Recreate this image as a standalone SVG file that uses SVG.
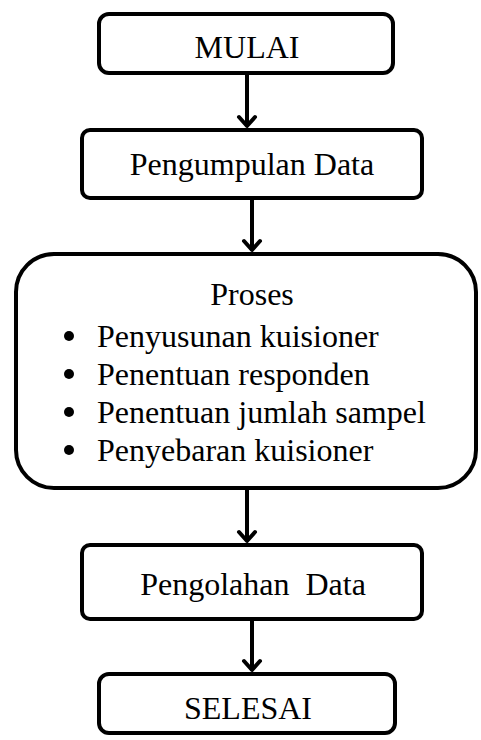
<svg xmlns="http://www.w3.org/2000/svg" width="481" height="740" viewBox="0 0 481 740">
  <defs>
    <style>
      .box { fill: #ffffff; stroke: #000000; stroke-width: 4; }
      text { font-family: 'Liberation Serif', 'Times New Roman', serif; font-size: 32px; fill: #000000; }
      .lbl { text-anchor: middle; }
      .conn { fill: none; stroke: #000000; stroke-width: 4; }
      .head { fill: none; stroke: #000000; stroke-width: 4; stroke-linecap: round; stroke-linejoin: round; }
    </style>
  </defs>
  <rect width="481" height="740" fill="#ffffff"/>

  <g id="connectors">
    <line class="conn" x1="247" y1="75" x2="247" y2="126"/>
    <polyline class="head" points="239,117 247,126 255,117"/>
    <line class="conn" x1="252" y1="200" x2="252" y2="250"/>
    <polyline class="head" points="244,241 252,250 260,241"/>
    <line class="conn" x1="247" y1="490" x2="247" y2="541"/>
    <polyline class="head" points="239,532 247,541 255,532"/>
    <line class="conn" x1="252" y1="621" x2="252" y2="670"/>
    <polyline class="head" points="244,661 252,670 260,661"/>
  </g>

  <g id="mulai">
    <rect class="box" x="99" y="14" width="294" height="59" rx="10"/>
    <text class="lbl" x="247" y="58">MULAI</text>
  </g>

  <g id="pengumpulan-data">
    <rect class="box" x="82" y="130" width="340" height="68" rx="8"/>
    <text class="lbl" x="252" y="175">Pengumpulan Data</text>
  </g>

  <g id="proses">
    <rect class="box" x="16" y="254" width="460" height="234" rx="38"/>
    <text class="lbl" x="252" y="305">Proses</text>
    <circle cx="69" cy="336" r="5"/>
    <text x="97" y="347">Penyusunan kuisioner</text>
    <circle cx="69" cy="374" r="5"/>
    <text x="97" y="385">Penentuan responden</text>
    <circle cx="69" cy="412" r="5"/>
    <text x="97" y="423">Penentuan jumlah sampel</text>
    <circle cx="69" cy="450" r="5"/>
    <text x="97" y="461">Penyebaran kuisioner</text>
  </g>

  <g id="pengolahan-data">
    <rect class="box" x="82" y="545" width="340" height="74" rx="8"/>
    <text class="lbl" x="253" y="595" xml:space="preserve">Pengolahan  Data</text>
  </g>

  <g id="selesai">
    <rect class="box" x="99" y="674" width="296" height="59" rx="10"/>
    <text class="lbl" x="248" y="719">SELESAI</text>
  </g>
</svg>
